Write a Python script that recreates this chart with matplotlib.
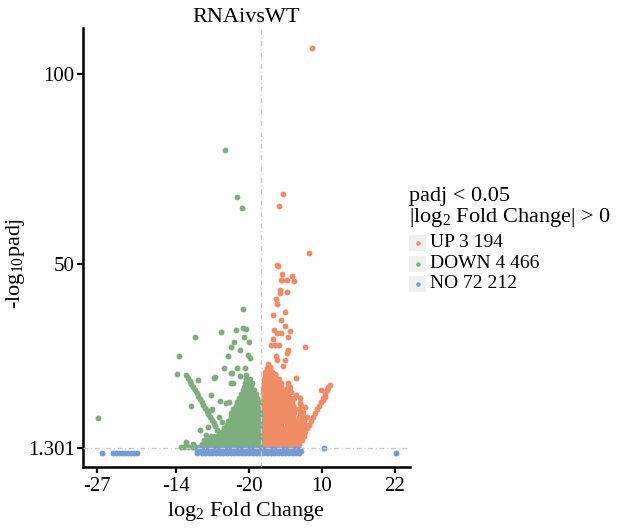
import matplotlib
matplotlib.use("Agg")
import matplotlib.pyplot as plt
from matplotlib.patches import Rectangle
from matplotlib.lines import Line2D

plt.rcParams['font.family'] = ['Liberation Serif', 'DejaVu Serif']

# ---- data (log2 fold change, -log10 padj) ----
# dense parts of each cloud, written row by row as (y, [x ...])
up_rows = [
    (1.6, [0.4, 1.0, 1.6, 2.2, 2.8, 3.4, 4.0, 4.6, 5.2, 5.8]),
    (2.5, [0.4, 1.0, 1.6, 2.2, 2.8, 3.4, 4.0, 4.6, 5.2, 5.8, 6.3]),
    (3.5, [0.4, 0.9, 1.5, 2.1, 2.7, 3.3, 3.9, 4.5, 5.1, 5.7, 6.3, 6.7]),
    (4.5, [0.4, 1.0, 1.6, 2.2, 2.8, 3.4, 4.0, 4.6, 5.2, 5.8, 6.4, 7.0]),
    (5.5, [0.4, 0.9, 1.5, 2.1, 2.7, 3.3, 3.9, 4.5, 5.1, 5.7, 6.3, 6.8, 7.3]),
    (6.5, [0.4, 1.0, 1.6, 2.2, 2.8, 3.4, 4.0, 4.6, 5.2, 5.8, 6.5, 7.0, 7.6]),
    (7.5, [0.4, 0.9, 1.5, 2.1, 2.7, 3.3, 4.2, 4.8, 5.4, 6.0, 6.6, 7.3, 7.9]),
    (8.5, [0.4, 1.0, 1.6, 2.2, 2.8, 3.6, 4.2, 5.0, 5.6, 6.4, 7.1, 8.2]),
    (9.5, [0.4, 0.9, 1.5, 2.1, 2.7, 3.3, 3.9, 4.6, 5.3, 6.2, 7.0, 7.6, 8.6]),
    (10.5, [0.4, 1.0, 1.6, 2.2, 2.8, 3.4, 4.1, 4.7, 5.5, 6.4, 8.9]),
    (11.5, [0.4, 0.9, 1.5, 2.1, 2.8, 3.3, 4.0, 4.8, 5.6, 6.2, 9.2]),
    (12.5, [0.4, 1.0, 1.6, 2.2, 2.7, 3.4, 4.0, 4.6, 5.3, 6.5, 9.5]),
    (13.5, [0.4, 0.9, 1.5, 2.1, 2.7, 3.3, 3.9, 4.5, 5.1, 9.9]),
    (14.5, [0.4, 1.0, 1.6, 2.2, 2.8, 3.4, 4.0, 4.7, 5.4, 6.4, 10.2]),
    (15.5, [0.4, 0.9, 1.5, 2.1, 2.7, 3.3, 3.9, 4.4, 10.5]),
    (16.5, [0.4, 1.0, 1.6, 2.2, 2.8, 3.4, 4.1, 10.8]),
    (17.5, [0.4, 0.9, 1.5, 2.1, 2.7, 3.3, 4.5, 11.0]),
    (18.5, [0.5, 1.0, 1.6, 2.2, 2.8, 3.3]),
    (19.5, [0.5, 1.1, 1.7, 2.3, 2.9]),
    (20.5, [0.6, 1.2, 1.8, 2.3]),
    (21.5, [0.7, 1.3, 1.8]),
    (22.5, [0.9, 1.4]),
    (23.5, [1.1]),
]
up_extra = [
    (8.3, 107), (3.6, 68.4), (2.9, 65.2), (7.9, 52.7), (2.8, 49.3), (2.7, 49.6),
    (3.4, 47.3), (3.5, 45.7), (4.2, 45.7), (5.1, 46.6), (5.4, 45.3), (3.3, 45.8),
    (3.1, 43.1), (4.2, 42.4), (3.1, 42.2), (2.4, 40.6), (2.7, 39.3), (3.9, 37.2),
    (1.9, 36.5), (3.3, 35.2), (3.9, 33.4), (2.2, 32.5), (2.7, 31.8), (3.3, 31.6),
    (4.7, 32.1), (4.5, 30.6), (2.0, 30.1), (7.3, 28.0), (1.7, 28.4), (2.3, 28.4),
    (2.9, 28.4), (4.5, 27.2), (4.2, 26.4), (2.4, 25.6), (2.6, 24.6), (3.9, 24.6),
    (3.6, 23.0), (1.5, 22.6), (1.7, 21.5), (2.3, 20.9), (5.7, 19.9), (4.5, 18.4),
    (4.7, 17.5), (4.2, 16.8), (11.3, 17.9), (10.8, 16.6), (9.9, 16.6), (10.5, 14.9),
    (10.2, 14.0), (6.4, 13.3), (7.2, 12.2), (5.0, 16.0), (5.8, 15.2), (6.9, 10.8),
]

down_rows = [
    (1.6, [-13.2, -12.6, -12.0, -11.4, -10.8, -10.2, -9.6, -9.0, -8.4, -7.8, -7.2, -6.6,
           -6.0, -5.4, -4.8, -4.2, -3.6, -3.0, -2.4, -1.8, -1.2, -0.6, -0.1]),
    (2.5, [-12.4, -11.2, -9.8, -9.2, -8.6, -8.0, -7.4, -6.8, -6.2, -5.6, -5.0, -4.4,
           -3.8, -3.2, -2.6, -2.0, -1.4, -0.8, -0.2]),
    (3.5, [-9.4, -8.8, -7.9, -7.2, -6.6, -6.0, -5.4, -4.8, -4.2, -3.6, -3.0, -2.4, -1.8,
           -1.2, -0.6, -0.1]),
    (4.5, [-8.2, -7.5, -6.3, -5.7, -5.1, -4.5, -3.9, -3.3, -2.7, -2.1, -1.5, -0.9, -0.3]),
    (5.5, [-6.4, -5.8, -5.2, -4.6, -4.0, -3.4, -2.8, -2.2, -1.6, -1.0, -0.4]),
    (6.5, [-6.1, -5.5, -4.9, -4.3, -3.7, -3.1, -2.5, -1.9, -1.3, -0.7, -0.1]),
    (7.5, [-5.6, -5.0, -4.4, -3.8, -3.2, -2.6, -2.0, -1.4, -0.8, -0.2]),
    (8.5, [-5.4, -4.8, -4.2, -3.6, -3.0, -2.4, -1.8, -1.2, -0.6, -0.1]),
    (9.5, [-5.0, -4.4, -3.8, -3.2, -2.6, -2.0, -1.4, -0.8, -0.2]),
    (10.5, [-4.9, -4.3, -3.7, -3.1, -2.5, -1.9, -1.3, -0.7, -0.2]),
    (11.5, [-4.6, -4.0, -3.4, -2.8, -2.2, -1.6, -1.0, -0.4]),
    (12.5, [-4.2, -3.6, -3.0, -2.4, -1.8, -1.2, -0.6]),
    (13.5, [-3.9, -3.3, -2.7, -2.1, -1.5, -0.9, -0.4]),
    (14.5, [-3.6, -3.0, -2.4, -1.8, -1.2, -0.7]),
    (15.5, [-3.3, -2.7, -2.1, -1.5, -0.9]),
    (16.5, [-3.0, -2.4, -1.8, -1.2]),
    (17.5, [-2.8, -2.3, -1.7]),
    (18.5, [-2.6, -2.0, -1.5]),
    (19.5, [-2.5, -1.9]),
    (20.5, [-2.4]),
]
# the thin diagonal edge on the left of the DOWN cloud
down_edge = [
    (-12.3, 20.6), (-12.0, 19.8), (-11.7, 19.0), (-11.5, 18.2), (-11.2, 17.4),
    (-10.9, 16.6), (-10.6, 15.8), (-10.3, 15.0), (-10.1, 14.2), (-9.8, 13.4),
    (-9.5, 12.6), (-9.2, 11.8), (-8.9, 11.0), (-8.7, 10.2), (-8.4, 9.4),
    (-8.1, 8.6), (-7.8, 7.8), (-7.5, 7.0), (-7.3, 6.2), (-7.0, 5.4),
    (-6.7, 4.6), (-6.4, 3.8), (-6.1, 3.0),
]
down_extra = [
    (-26.8, 9.2), (-5.9, 80.0), (-3.9, 67.6), (-3.1, 64.6), (-2.9, 38.0),
    (-3.0, 33.1), (-2.5, 32.7), (-4.2, 32.4), (-6.6, 31.9), (-10.9, 30.6),
    (-2.8, 30.6), (-4.4, 29.4), (-2.0, 29.3), (-4.9, 28.0), (-3.5, 27.1),
    (-13.5, 25.7), (-5.4, 25.7), (-2.1, 25.9), (-1.8, 25.0), (-6.1, 22.5),
    (-4.0, 22.4), (-2.6, 22.5), (-13.8, 20.9), (-7.6, 20.0), (-5.0, 21.0),
    (-10.3, 19.3), (-7.7, 19.7), (-4.8, 21.2), (-3.5, 20.2), (-5.0, 18.4),
    (-4.7, 18.5), (-8.2, 15.3), (-6.7, 13.7), (-5.7, 13.1), (-5.3, 13.5),
    (-11.6, 12.4), (-8.1, 11.5), (-8.2, 11.4), (-10.0, 6.1), (-8.7, 6.9),
    (-12.4, 3.0), (-9.0, 4.8), (-6.9, 9.5), (-6.5, 8.2),
]

no_rows = [
    (1.0, [-10.4, -9.8, -9.2, -8.6, -8.0, -7.4, -6.8, -6.2, -5.6, -5.0, -4.4, -3.8, -3.2,
           -2.6, -2.0, -1.4, -0.8, -0.2, 0.4, 1.0, 1.6, 2.2, 2.8, 3.4, 4.0, 4.6, 5.2, 5.8, 6.3]),
    (0.4, [-10.6, -10.1, -9.5, -8.9, -8.3, -7.7, -7.1, -6.5, -5.9, -5.3, -4.7, -4.1, -3.5,
           -2.9, -2.3, -1.7, -1.1, -0.5, 0.1, 0.7, 1.3, 1.9, 2.5, 3.1, 3.7, 4.3, 4.9, 5.5, 6.1, 6.5]),
    (-0.1, [-10.5, -9.8, -9.2, -8.6, -8.0, -7.4, -6.8, -6.2, -5.6, -5.0, -4.4, -3.8, -3.2,
            -2.6, -2.0, -1.4, -0.8, -0.2, 0.4, 1.0, 1.6, 2.2, 2.8, 3.4, 4.0, 4.6, 5.2, 5.8, 6.2]),
    (0.0, [-26.2, -24.4, -23.9, -23.4, -22.9, -22.4, -21.9, -21.4, -20.9, -20.4, 22.2]),
    (1.2, [10.3]),
]

group_names = ['UP', 'DOWN', 'NO']
group_counts = ['3 194', '4 466', '72 212']
group_colors = ['#EF8C66', '#7EAE7E', '#729CD8']

x_ticks = [-27, -14, -2, 10, 22]
x_tick_labels = ['-27', '-14', '-20', '10', '22']
y_ticks = [100, 50, 1.301]
y_tick_labels = ['100', '50', '1.301']
padj_line = 1.301


def unpack(rows, extra=()):
    xs, ys = [], []
    for y, row in rows:
        xs += row
        ys += [y] * len(row)
    for x, y in extra:
        xs.append(x)
        ys.append(y)
    return xs, ys


up_x, up_y = unpack(up_rows, up_extra)
down_x, down_y = unpack(down_rows, down_edge + down_extra)
no_x, no_y = unpack(no_rows)

fig = plt.figure(figsize=(6.32, 5.29), dpi=100)
ax = fig.add_axes([0.1313, 0.1172, 0.5174, 0.8298])

ax.scatter(up_x, up_y, s=18, color=group_colors[0], linewidths=0, zorder=2)
ax.scatter(down_x, down_y, s=18, color=group_colors[1], linewidths=0, zorder=2)
ax.scatter(no_x, no_y, s=18, color=group_colors[2], linewidths=0, zorder=3)

dash = (0, (3.5, 2, 0.7, 2))
ax.axvline(0, color='#C8C8C8', lw=1.0, ls=dash, zorder=4)
ax.axhline(padj_line, color='#C8C8C8', lw=1.0, ls=dash, zorder=4)

ax.set_xlim(-29.3, 24.5)
ax.set_ylim(-3.7, 112.2)
ax.set_xticks(x_ticks)
ax.set_xticklabels(x_tick_labels)
ax.set_yticks(y_ticks)
ax.set_yticklabels(y_tick_labels)

for side in ['top', 'right']:
    ax.spines[side].set_visible(False)
for side in ['left', 'bottom']:
    ax.spines[side].set_linewidth(1.8)
ax.tick_params(axis='both', labelsize=15, width=1.6, length=4, color='black')
ax.tick_params(axis='y', pad=2)
ax.tick_params(axis='x', pad=3)

ax.set_title('RNAivsWT', fontsize=16, pad=4)
ax.set_xlabel(r'log$\mathregular{_2}$ Fold Change', fontsize=16, labelpad=3)
ax.set_ylabel(r'-log$\mathregular{_{10}}$padj', fontsize=16)
ax.yaxis.set_label_coords(-0.172, 0.462)

# legend, drawn by hand so the keys get their grey boxes
W, H = 632, 529
lx = 409
fig.text(lx / W, 1 - 197 / H, 'padj < 0.05', fontsize=16, va='center', ha='left')
fig.text(lx / W, 1 - 218 / H, r'|log$\mathregular{_2}$ Fold Change| > 0',
         fontsize=16, va='center', ha='left')
for i, yy in enumerate([243, 264, 284]):
    fig.patches.append(Rectangle(((lx) / W, 1 - (yy + 8) / H), 17 / W, 16 / H,
                                 transform=fig.transFigure, fc='#EFEFEF', ec='none'))
    fig.add_artist(Line2D([(lx + 8.5) / W], [1 - yy / H], transform=fig.transFigure,
                          marker='o', ms=3.2, mew=0, color=group_colors[i], ls='none'))
    fig.text((lx + 21) / W, 1 - yy / H, group_names[i] + ' ' + group_counts[i],
             fontsize=14, va='center', ha='left')

fig.savefig('out.png', dpi=100)
